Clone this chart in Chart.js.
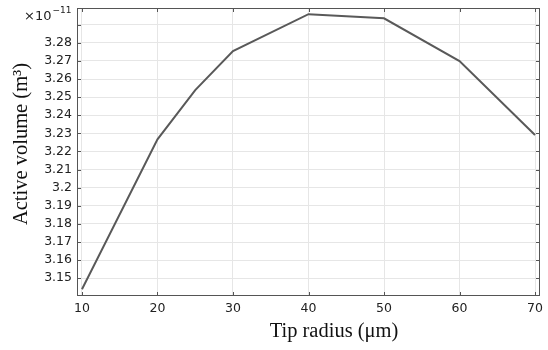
<!DOCTYPE html>
<html>
<head>
<meta charset="utf-8">
<script src="https://cdn.jsdelivr.net/npm/chart.js@4"></script>
<style>
  html, body { margin: 0; padding: 0; background: #fff; }
  #wrap { width: 548px; height: 350px; position: relative; }
</style>
</head>
<body>
<div id="wrap"><canvas id="chart"></canvas></div>
<script>
// tip radius (um) and active volume (x1e-11 m^3)
var tipRadius = [10, 20, 25, 30, 40, 50, 60, 70];
var activeVolume = [3.1439, 3.2267, 3.2539, 3.2754, 3.2958, 3.2935, 3.2699, 3.2291];
var xTicks = [10, 20, 30, 40, 50, 60, 70];
var yTicks = [3.15, 3.16, 3.17, 3.18, 3.19, 3.2, 3.21, 3.22, 3.23, 3.24, 3.25, 3.26, 3.27, 3.28, 3.29];
var xTitle = 'Tip radius (\u03bcm)';
var yTitle = 'Active volume (m\u00b3)';

var frameColor = '#555555';

// box around the plot, inward ticks, axis titles and the exponent label
var framePlugin = {
    id: 'frame',
    afterDraw: function(chart) {
        var ctx = chart.ctx;
        var a = chart.chartArea;
        var xs = chart.scales.x, ys = chart.scales.y;
        ctx.save();
        ctx.strokeStyle = frameColor;
        ctx.lineWidth = 1;
        ctx.strokeRect(a.left + 0.5, a.top + 0.5, a.right - a.left - 1, a.bottom - a.top - 1);
        ctx.beginPath();
        yTicks.forEach(function(v) {
            var y = Math.round(ys.getPixelForValue(v)) + 0.5;
            ctx.moveTo(a.left, y); ctx.lineTo(a.left + 4, y);
            ctx.moveTo(a.right, y); ctx.lineTo(a.right - 4, y);
        });
        xTicks.forEach(function(v) {
            var x = Math.round(xs.getPixelForValue(v)) + 0.5;
            ctx.moveTo(x, a.top); ctx.lineTo(x, a.top + 4);
            ctx.moveTo(x, a.bottom); ctx.lineTo(x, a.bottom - 4);
        });
        ctx.stroke();

        ctx.fillStyle = '#222';
        ctx.textAlign = 'left';
        ctx.textBaseline = 'alphabetic';
        ctx.font = '13px "DejaVu Sans"';
        ctx.fillText('\u00d710', 24, 20);
        var w = ctx.measureText('\u00d710').width;
        ctx.font = '9px "DejaVu Sans"';
        ctx.fillText('\u221211', 24 + w + 1, 13);

        ctx.fillStyle = '#111';
        ctx.font = '20.5px "Liberation Serif"';
        ctx.textAlign = 'center';
        ctx.textBaseline = 'middle';
        ctx.fillText(xTitle, 334, 332);
        ctx.translate(22, 144);
        ctx.rotate(-Math.PI / 2);
        ctx.fillText(yTitle, 0, 0);
        ctx.restore();
    }
};

var ctx = document.getElementById('chart').getContext('2d');
var chart = new Chart(ctx, {
    type: 'line',
    data: {
        labels: tipRadius,
        datasets: [{
            data: tipRadius.map(function(r, i) { return { x: r, y: activeVolume[i] }; }),
            borderColor: '#595959',
            borderWidth: 2,
            pointRadius: 0,
            fill: false,
            tension: 0
        }]
    },
    options: {
        responsive: true,
        maintainAspectRatio: false,
        animation: false,
        layout: { padding: { top: 8, right: 8, left: 0, bottom: 0 } },
        plugins: {
            legend: { display: false },
            tooltip: { enabled: false }
        },
        scales: {
            x: {
                type: 'linear',
                min: 9.34,
                max: 70.66,
                afterBuildTicks: function(s) { s.ticks = xTicks.map(function(v) { return { value: v }; }); },
                afterFit: function(s) { s.height = 54; s.paddingLeft = 0; s.paddingRight = 0; },
                border: { display: false },
                grid: { color: '#e6e6e6', drawTicks: false },
                ticks: {
                    padding: 5,
                    color: '#222',
                    font: { family: 'DejaVu Sans', size: 12.5 },
                    maxRotation: 0
                }
            },
            y: {
                type: 'linear',
                min: 3.1402,
                max: 3.2992,
                afterBuildTicks: function(s) { s.ticks = yTicks.map(function(v) { return { value: v }; }); },
                afterFit: function(s) { s.width = 77; s.paddingTop = 0; s.paddingBottom = 0; },
                border: { display: false },
                grid: { color: '#e6e6e6', drawTicks: false },
                ticks: {
                    padding: 5,
                    color: '#222',
                    font: { family: 'DejaVu Sans', size: 12.5 },
                    callback: function(v) {
                        if (Math.abs(v - 3.29) < 1e-6) return '';
                        return String(Math.round(v * 100) / 100);
                    }
                }
            }
        }
    },
    plugins: [framePlugin]
});
</script>
</body>
</html>
